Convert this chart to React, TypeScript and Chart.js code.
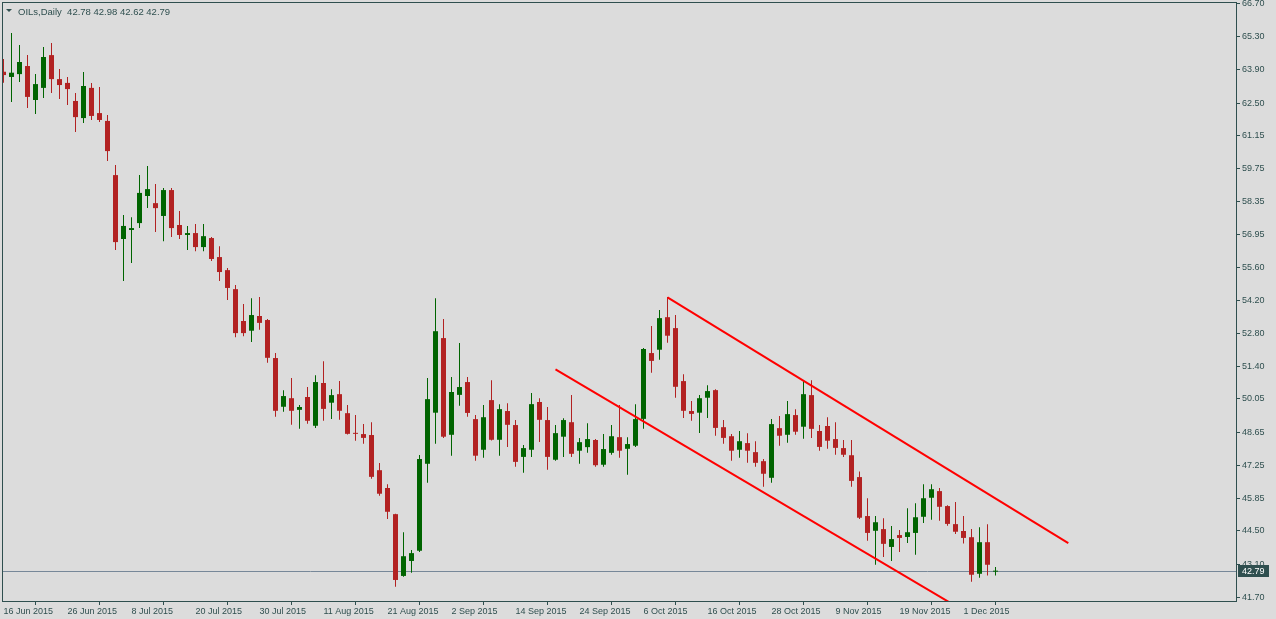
import { useEffect, useRef } from "react";
import { Chart, registerables } from "chart.js";

Chart.register(...registerables);

const symbolName = "OILs,Daily";

const opens = [
  63.82, 63.60, 63.72, 64.06, 62.63, 63.14, 64.52, 63.51, 63.35, 62.59,
  61.87, 63.14, 62.08, 61.75, 59.47, 56.78, 57.16, 57.45, 58.59, 58.29,
  57.75, 58.84, 57.37, 56.95, 57.03, 56.44, 56.82, 56.02, 55.47, 54.67,
  53.33, 52.92, 53.54, 53.37, 51.77, 49.72, 50.08, 49.59, 50.13, 48.92,
  50.72, 49.89, 50.25, 49.45, 48.61, 48.57, 48.53, 47.05, 46.30, 45.20,
  42.60, 43.23, 43.66, 47.32, 49.47, 52.61, 48.54, 50.22, 50.76, 49.20,
  47.91, 50.00, 48.33, 49.54, 48.95, 47.61, 47.91, 49.92, 49.16, 47.49,
  48.46, 49.07, 47.87, 48.02, 48.32, 47.28, 47.78, 48.44, 47.95, 48.08,
  49.21, 51.98, 52.12, 53.49, 53.03, 50.80, 49.54, 49.47, 50.10, 50.42,
  48.86, 48.48, 47.91, 48.19, 47.81, 47.43, 46.73, 48.82, 48.54, 49.37,
  48.88, 50.21, 48.70, 48.91, 48.36, 47.98, 47.68, 46.76, 45.12, 44.50,
  44.57, 43.82, 44.32, 44.24, 44.41, 45.09, 45.89, 46.17, 45.54, 44.78,
  44.49, 44.23, 42.69, 44.02, 42.78,
];
const highs = [
  64.36, 65.45, 64.95, 64.52, 63.72, 64.86, 65.03, 63.94, 63.60, 62.92,
  63.81, 63.35, 63.18, 62.00, 59.89, 57.79, 57.70, 59.47, 59.85, 59.09,
  58.93, 58.93, 57.96, 57.33, 57.41, 57.41, 56.86, 56.48, 55.56, 54.84,
  54.04, 54.29, 54.34, 53.41, 51.98, 50.42, 50.93, 49.79, 50.55, 51.05,
  51.64, 50.46, 50.80, 49.79, 49.37, 48.99, 49.07, 47.35, 46.46, 45.22,
  44.44, 43.69, 47.69, 50.93, 54.29, 53.41, 50.97, 52.40, 50.97, 49.37,
  49.79, 50.84, 49.83, 49.87, 49.16, 48.11, 50.30, 50.08, 49.71, 48.95,
  49.24, 50.21, 48.40, 49.03, 48.36, 48.57, 48.95, 49.79, 48.44, 49.83,
  52.19, 53.12, 53.79, 54.34, 53.58, 51.09, 49.96, 50.21, 50.63, 50.46,
  49.16, 48.57, 48.70, 48.61, 48.27, 47.52, 49.20, 49.33, 49.96, 49.62,
  50.84, 50.84, 48.95, 49.28, 49.07, 48.32, 48.32, 46.99, 45.87, 45.12,
  45.03, 44.70, 44.53, 45.45, 45.66, 46.46, 46.46, 46.30, 45.58, 45.71,
  45.12, 44.57, 44.65, 44.78, 42.98,
];
const lows = [
  63.36, 62.55, 63.39, 62.29, 62.04, 62.71, 62.92, 62.67, 62.42, 61.28,
  61.66, 61.79, 61.70, 60.06, 56.32, 55.01, 55.77, 57.24, 58.08, 57.07,
  56.69, 56.86, 56.78, 56.32, 56.27, 56.27, 55.85, 55.01, 54.21, 52.65,
  52.69, 52.45, 52.96, 51.57, 49.30, 49.51, 48.96, 48.79, 49.00, 48.83,
  49.13, 49.21, 49.17, 48.55, 48.29, 48.16, 46.69, 45.97, 45.00, 42.14,
  42.57, 42.73, 43.61, 46.52, 48.16, 48.41, 47.66, 49.76, 49.30, 47.45,
  47.57, 48.30, 47.66, 48.03, 47.19, 46.94, 47.61, 48.24, 47.07, 47.45,
  47.61, 47.61, 47.32, 47.78, 47.19, 47.19, 47.70, 47.57, 46.86, 48.03,
  48.79, 51.15, 51.70, 52.41, 50.10, 49.25, 49.13, 48.62, 49.25, 48.50,
  48.16, 47.45, 47.57, 47.36, 47.19, 46.35, 46.52, 48.08, 48.20, 48.54,
  48.37, 48.41, 47.87, 47.95, 47.70, 47.61, 46.35, 45.00, 44.08, 43.07,
  43.40, 43.23, 43.61, 43.99, 43.49, 44.83, 44.96, 44.92, 44.71, 44.37,
  43.97, 42.35, 42.52, 42.62, 42.62,
];
const closes = [
  63.68, 63.78, 64.23, 62.76, 63.30, 64.44, 63.51, 63.26, 63.09, 61.91,
  63.22, 61.96, 61.79, 60.48, 56.65, 57.33, 57.24, 58.72, 58.88, 58.08,
  58.84, 57.24, 56.95, 57.03, 56.44, 56.90, 55.94, 55.39, 54.72, 52.82,
  52.82, 53.58, 53.25, 51.78, 49.55, 50.17, 49.55, 49.71, 49.13, 50.76,
  49.63, 50.21, 49.55, 48.58, 48.58, 48.41, 46.77, 46.06, 45.30, 42.43,
  43.43, 43.56, 47.52, 50.04, 52.90, 48.46, 50.34, 50.55, 49.46, 47.66,
  49.28, 48.33, 49.62, 48.96, 47.40, 47.98, 49.83, 49.17, 47.61, 48.61,
  49.16, 47.74, 48.23, 48.36, 47.26, 47.94, 48.48, 47.87, 48.15, 49.20,
  52.15, 51.65, 53.45, 52.71, 50.56, 49.55, 49.42, 50.08, 50.38, 48.83,
  48.41, 47.87, 48.27, 47.87, 47.36, 46.90, 48.99, 48.50, 49.41, 48.67,
  50.25, 48.79, 48.03, 48.29, 47.99, 47.70, 46.60, 45.05, 44.41, 44.86,
  43.95, 44.15, 44.20, 44.44, 45.07, 45.87, 46.25, 45.51, 44.79, 44.46,
  44.20, 42.65, 44.02, 43.07, 42.79,
];

const tickIndex = [0, 8, 16, 24, 32, 40, 48, 56, 64, 72, 80, 88, 96, 104, 112, 120];
const tickLabels = [
  "16 Jun 2015", "26 Jun 2015", "8 Jul 2015", "20 Jul 2015", "30 Jul 2015",
  "11 Aug 2015", "21 Aug 2015", "2 Sep 2015", "14 Sep 2015", "24 Sep 2015",
  "6 Oct 2015", "16 Oct 2015", "28 Oct 2015", "9 Nov 2015", "19 Nov 2015",
  "1 Dec 2015",
];
const priceTicks = [
  66.70, 65.30, 63.90, 62.50, 61.15, 59.75, 58.35, 56.95, 55.60, 54.20,
  52.80, 51.40, 50.05, 48.65, 47.25, 45.85, 44.50, 43.10, 41.70,
];

const upperChannel = [
  { x: 83, y: 54.32 },
  { x: 133.1, y: 43.98 },
];
const lowerChannel = [
  { x: 69, y: 51.29 },
  { x: 121, y: 40.94 },
];

const BG = "#dcdcdc";
const FG = "#2f4f4f";
const UP = "#006400";
const DOWN = "#b22222";
const FONT = "'Liberation Sans', Arial, sans-serif";

export default function App() {
  const ref = useRef<HTMLCanvasElement | null>(null);

  useEffect(() => {
    if (!ref.current) return;
    const colors = closes.map((c, i) => (c >= opens[i] ? UP : DOWN));
    const wickData = lows.map((l, i) => ({ x: i, y: [l, highs[i]] }));
    const bodyData = opens.map((o, i) => ({ x: i, y: [o, closes[i]] }));
    const last = closes.length - 1;

    const framePlugin = {
      id: "mtFrame",
      beforeDraw(chart: any) {
        const c = chart.ctx;
        c.save();
        c.fillStyle = BG;
        c.fillRect(0, 0, chart.width, chart.height);
        c.restore();
      },
      beforeDatasetsDraw(chart: any) {
        const c = chart.ctx;
        const a = chart.chartArea;
        const y = Math.round(chart.scales.y.getPixelForValue(closes[last])) + 0.5;
        c.save();
        c.strokeStyle = "#778899";
        c.lineWidth = 1;
        c.beginPath();
        c.moveTo(a.left, y);
        c.lineTo(a.right, y);
        c.stroke();
        c.restore();
      },
      afterDraw(chart: any) {
        const c = chart.ctx;
        const a = chart.chartArea;
        c.save();
        c.strokeStyle = FG;
        c.lineWidth = 1;
        c.strokeRect(a.left + 0.5, a.top + 0.5, a.right - a.left, a.bottom - a.top);
        // price tag
        const y = chart.scales.y.getPixelForValue(closes[last]);
        c.fillStyle = FG;
        c.fillRect(a.right + 2, Math.round(y) - 6, 31, 12);
        c.fillStyle = "#ffffff";
        c.font = `9px ${FONT}`;
        c.textAlign = "left";
        c.textBaseline = "middle";
        c.fillText(closes[last].toFixed(2), a.right + 6, Math.round(y) + 0.5);
        // title
        c.fillStyle = FG;
        c.beginPath();
        c.moveTo(6, 9);
        c.lineTo(12, 9);
        c.lineTo(9, 12);
        c.closePath();
        c.fill();
        c.font = `9.5px ${FONT}`;
        c.textBaseline = "alphabetic";
        const info = `${symbolName}  ${opens[last].toFixed(2)} ${highs[last].toFixed(2)} ${lows[last].toFixed(2)} ${closes[last].toFixed(2)}`;
        c.fillText(info, 18, 15);
        c.restore();
      },
    };

    const chart = new Chart(ref.current, {
      type: "bar",
      data: {
        datasets: [
          {
            type: "line",
            data: upperChannel,
            borderColor: "#ff0000",
            borderWidth: 2,
            pointRadius: 0,
            fill: false,
            clip: 0,
            order: 0,
          } as any,
          {
            type: "line",
            data: lowerChannel,
            borderColor: "#ff0000",
            borderWidth: 2,
            pointRadius: 0,
            fill: false,
            clip: 0,
            order: 0,
          } as any,
          {
            data: bodyData,
            backgroundColor: colors,
            borderWidth: 0,
            grouped: false,
            barThickness: 5,
            maxBarThickness: 5,
            minBarLength: 1,
            inflateAmount: 0,
            clip: 0,
            order: 1,
          } as any,
          {
            data: wickData,
            backgroundColor: colors,
            borderWidth: 0,
            grouped: false,
            barThickness: 1,
            maxBarThickness: 1,
            inflateAmount: 0,
            clip: 0,
            order: 2,
          } as any,
        ],
      },
      options: {
        animation: false,
        responsive: false,
        events: [],
        layout: { padding: { left: 2, top: 2, right: 0, bottom: 0 } },
        plugins: {
          legend: { display: false },
          tooltip: { enabled: false },
          title: { display: false },
        },
        scales: {
          x: {
            type: "linear",
            min: -0.1875,
            max: 154.0625,
            offset: false,
            grid: { drawOnChartArea: false, drawTicks: true, tickLength: 4, color: FG },
            border: { display: false },
            afterBuildTicks: (scale: any) => {
              scale.ticks = tickIndex.map((v) => ({ value: v }));
            },
            afterFit: (scale: any) => {
              scale.height = 18;
              scale.paddingLeft = 0;
              scale.paddingRight = 0;
              scale.paddingTop = 0;
              scale.paddingBottom = 0;
            },
            ticks: {
              autoSkip: false,
              maxRotation: 0,
              minRotation: 0,
              align: "start",
              padding: 1,
              color: FG,
              font: { family: FONT, size: 9 },
              callback: (_v: any, i: number) => tickLabels[i],
            },
          },
          y: {
            type: "linear",
            position: "right",
            min: 41.545,
            max: 66.755,
            grid: { drawOnChartArea: false, drawTicks: true, tickLength: 4, color: FG },
            border: { display: false },
            afterBuildTicks: (scale: any) => {
              scale.ticks = priceTicks.map((v) => ({ value: v }));
            },
            afterFit: (scale: any) => {
              scale.width = 40;
              scale.paddingLeft = 0;
              scale.paddingRight = 0;
              scale.paddingTop = 0;
              scale.paddingBottom = 0;
            },
            ticks: {
              autoSkip: false,
              padding: 2,
              color: FG,
              font: { family: FONT, size: 9 },
              callback: (v: any) => Number(v).toFixed(2),
            },
          },
        },
      } as any,
      plugins: [framePlugin],
    });
    return () => chart.destroy();
  }, []);

  return (
    <div
      style={{
        position: "fixed",
        left: 0,
        top: 0,
        width: 1276,
        height: 619,
        background: BG,
      }}
    >
      <canvas ref={ref} width={1276} height={619} style={{ display: "block" }} />
    </div>
  );
}
